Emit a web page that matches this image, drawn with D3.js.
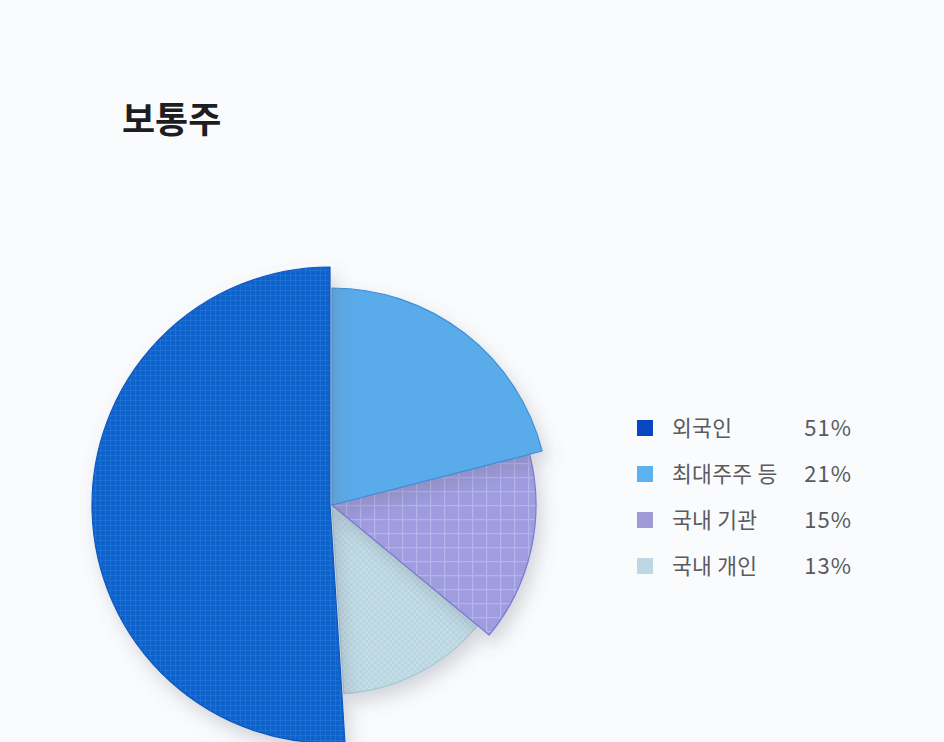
<!DOCTYPE html>
<html>
<head>
<meta charset="utf-8">
<script src="https://cdn.jsdelivr.net/npm/d3@7"></script>
<style>
  body { margin: 0; background: #fafbfd; }
  svg { display: block; }
</style>
</head>
<body>
<svg id="chart" width="944" height="742"></svg>
<script>
// 보통주 주주 구성
const categories = ["외국인", "최대주주 등", "국내 기관", "국내 개인"]
const shares = [51, 21, 15, 13]
const shareLabels = ["51%", "21%", "15%", "13%"]

const sliceColors = ["#0b62cb", "#5aabea", "#9f9ce0", "#c4dde6"]
const edgeColors = ["#0a58be", "#3e8fd6", "#7c7bd0", "#a6c8d4"]
const legendColors = ["#0747c0", "#5ab3ef", "#a09ad8", "#bcd8e4"]
const sliceRadius = [238, 217, 204, 189]   // 조각마다 반지름이 다름
const patternIds = ["dots", null, "grid", "check"]

const svg = d3.select('#chart')
const cx = 332, cy = 505

const defs = svg.append("defs")
const f = defs.append("filter").attr("id", "shadow")
    .attr("x", "-30%").attr("y", "-30%").attr("width", "160%").attr("height", "160%")
f.append("feDropShadow").attr("dx", 5).attr("dy", 9).attr("stdDeviation", 9)
    .attr("flood-color", "#6a7080").attr("flood-opacity", 0.28)

// 텍스처 패턴
const p1 = defs.append("pattern").attr("id", "dots").attr("patternUnits", "userSpaceOnUse")
    .attr("width", 5).attr("height", 5)
p1.append("rect").attr("width", 5).attr("height", 5).attr("fill", sliceColors[0])
p1.append("path").attr("d", "M0 0.5H5M0.5 0V5").attr("stroke", "#2c78d8")
    .attr("stroke-width", 1).attr("fill", "none").attr("opacity", 0.6)

const p2 = defs.append("pattern").attr("id", "grid").attr("patternUnits", "userSpaceOnUse")
    .attr("width", 14).attr("height", 14)
p2.append("rect").attr("width", 14).attr("height", 14).attr("fill", sliceColors[2])
p2.append("path").attr("d", "M0 0.5H14M0.5 0V14").attr("stroke", "#bebff0").attr("stroke-width", 1.5)
    .attr("fill", "none").attr("opacity", 0.7)

const p3 = defs.append("pattern").attr("id", "check").attr("patternUnits", "userSpaceOnUse")
    .attr("width", 6).attr("height", 6)
p3.append("rect").attr("width", 6).attr("height", 6).attr("fill", sliceColors[3])
p3.append("rect").attr("width", 3).attr("height", 3).attr("fill", "#b2d2dd").attr("opacity", 0.6)
p3.append("rect").attr("x", 3).attr("y", 3).attr("width", 3).attr("height", 3).attr("fill", "#b2d2dd").attr("opacity", 0.6)

// 외국인 조각이 12시 방향에서 반시계로 끝나도록 시작각 설정
const total = d3.sum(shares)
const start = -2 * Math.PI * shares[0] / total
const pie = d3.pie().sort(null).value(d => d).startAngle(start).endAngle(start + 2 * Math.PI)
const arcs = pie(shares)

const g = svg.append("g").attr('transform', `translate(${cx},${cy})`)

// 그리는 순서: 국내 개인 → 국내 기관 → 최대주주 → 외국인
const drawOrder = [3, 2, 1, 0]
drawOrder.forEach(i => {
    const a = arcs[i]
    const arc = d3.arc().innerRadius(0).outerRadius(sliceRadius[i])
    const shift = i == 0 ? -2 : 0
    g.append("path")
        .attr("d", arc(a))
        .attr("transform", `translate(${shift},0)`)
        .attr("fill", patternIds[i] ? `url(#${patternIds[i]})` : sliceColors[i])
        .attr("stroke", edgeColors[i])
        .attr("stroke-width", 1.2)
        .attr("stroke-linejoin", "round")
        .attr("filter", "url(#shadow)")
})

// 제목
svg.append("text")
    .attr("x", 122).attr("y", 133)
    .attr("font-family", "Noto Sans CJK KR")
    .attr("font-weight", 700)
    .attr("font-size", 36)
    .attr("fill", "#1e1e22")
    .text("보통주")

// 범례
const legend = svg.append("g")
const rowY = d3.scalePoint().domain(categories).range([428, 566])
categories.forEach((c, i) => {
    const y = rowY(c)
    legend.append("rect")
        .attr("x", 637).attr("y", y - 8)
        .attr("width", 16).attr("height", 16)
        .attr("fill", legendColors[i])
    legend.append("text")
        .attr("x", 672).attr("y", y + 8)
        .attr("font-family", "Noto Sans CJK KR")
        .attr("font-size", 21.5)
        .attr("letter-spacing", 0.3)
        .attr("fill", "#5a5a60")
        .text(c)
    legend.append("text")
        .attr("x", 852).attr("y", y + 8)
        .attr("text-anchor", "end")
        .attr("font-family", "Noto Sans CJK KR")
        .attr("font-size", 22)
        .attr("letter-spacing", 1)
        .attr("fill", "#5a5a60")
        .text(shareLabels[i])
})
</script>
</body>
</html>
